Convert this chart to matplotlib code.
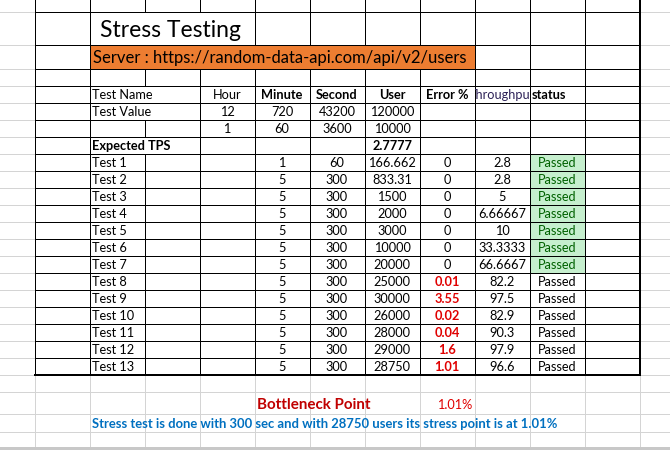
import matplotlib
matplotlib.use("Agg")
import matplotlib.pyplot as plt
from matplotlib.transforms import Bbox, TransformedBbox, IdentityTransform

# ---------------- data ----------------
title = "Stress Testing"
server = "Server : https://random-data-api.com/api/v2/users"
header = ["Test Name", "Hour", "Minute", "Second", "User", "Error %", "Throughput", "status"]
value_hours = [12, 1]
value_minutes = [720, 60]
value_seconds = [43200, 3600]
value_users = [120000, 10000]
expected_tps = 2.7777

test_names = ["Test %d" % i for i in range(1, 14)]
minutes = [1, 5, 5, 5, 5, 5, 5, 5, 5, 5, 5, 5, 5]
seconds = [60, 300, 300, 300, 300, 300, 300, 300, 300, 300, 300, 300, 300]
users = [166.662, 833.31, 1500, 2000, 3000, 10000, 20000, 25000, 30000, 26000, 28000, 29000, 28750]
errors = [0, 0, 0, 0, 0, 0, 0, 0.01, 3.55, 0.02, 0.04, 1.6, 1.01]
throughput = [2.8, 2.8, 5, 6.66667, 10, 33.3333, 66.6667, 82.2, 97.5, 82.9, 90.3, 97.9, 96.6]
status = ["Passed"] * 13
highlighted = [True] * 7 + [False] * 6

bottleneck_label = "Bottleneck Point"
bottleneck_value = "1.01%"
summary = "Stress test is done with 300 sec and with 28750 users its stress point is at 1.01%"

# ---------------- layout (pixels) ----------------
W, H = 670, 450
FONT = "Lato"
PX = 72 / 100  # one pixel in points
fig = plt.figure(figsize=(W / 100, H / 100), dpi=100)
ax = fig.add_axes([0, 0, 1, 1])
ax.set_xlim(0, W)
ax.set_ylim(H, 0)
ax.axis("off")

cols = [34.5 + 55 * i for i in range(12)]
rows = [0, 11.5, 44.5, 68.5, 85.5, 102.5, 119.5, 136.5, 153.5] + [153.5 + 17 * (i + 1) for i in range(13)]
table_bottom = rows[-1]
extra_rows = [391.5, 413.5, 431.5]
GRAY = "#d4d4d4"

def hline(y, x0, x1, c="black", lw=1.0, z=3):
    ax.plot([x0, x1], [y, y], color=c, lw=lw * PX, solid_capstyle="butt", zorder=z,
            antialiased=False)

def vline(x, y0, y1, c="black", lw=1.0, z=3):
    ax.plot([x, x], [y0, y1], color=c, lw=lw * PX, solid_capstyle="butt", zorder=z,
            antialiased=False)

# gray gridlines outside the bordered table
for y in rows[1:]:
    hline(y, 0, cols[0], GRAY, 1.0, 1)
    hline(y, cols[-1], W, GRAY, 1.0, 1)
for y in extra_rows:
    hline(y, 0, W, GRAY, 1.0, 1)
for x in cols:
    vline(x, table_bottom, 447, GRAY, 1.0, 1)
ax.add_patch(plt.Rectangle((0, 447), W, 3, color="#c8c8c8", zorder=1, lw=0))

# fills
ax.add_patch(plt.Rectangle((cols[1], rows[2]), cols[8] - cols[1], rows[3] - rows[2],
                           color="#ed7d31", zorder=2, lw=0))
for i, hl in enumerate(highlighted):
    if hl:
        y0 = rows[8 + i]
        ax.add_patch(plt.Rectangle((cols[9], y0), 55, 17, color="#c6efce", zorder=2, lw=0))

# black borders: horizontal
for y in rows[1:-1]:
    hline(y, cols[0], cols[-1])
hline(table_bottom + 0.5, cols[0] - 0.5, cols[-1] + 1, lw=2.0)

# vertical borders with merged cells skipped
for ri in range(len(rows) - 1):
    y0, y1 = rows[ri], rows[ri + 1]
    for ci, x in enumerate(cols):
        if ri == 1 and ci in (2, 3):
            continue
        if ri == 2 and 2 <= ci <= 7:
            continue
        if ri in (4, 5, 7) and ci == 2:
            continue
        if ci == len(cols) - 1:
            vline(x + 0.5, y0, y1, lw=2.0)
        else:
            vline(x, y0, y1)

def fmt(v):
    return "{:g}".format(v)

def cell_text(s, ci, ri, ha="center", bold=False, color="black", size=9.2, clip=False):
    x0, x1 = cols[ci], cols[ci + 1]
    y1 = rows[ri + 1]
    if ha == "center":
        x = (x0 + x1) / 2
    elif ha == "left":
        x = x0 + 2.5
    else:
        x = x1 - 2.5
    t = ax.text(x, y1 - 3.4, s, ha=ha, va="baseline", fontsize=size, family=FONT,
                fontweight="bold" if bold else "normal", color=color, zorder=4)
    if clip:
        t.set_clip_on(True)
        bb = Bbox.from_extents(*ax.transData.transform((x0 + 0.5, rows[ri + 1])),
                               *ax.transData.transform((x1 - 0.5, rows[ri])))
        t.set_clip_box(TransformedBbox(bb, IdentityTransform()))
    return t

# title and server
ax.text(100, 36.7, title, fontsize=16.5, family=FONT, va="baseline", ha="left", zorder=4)
ax.text(93, 63.5, server, fontsize=11.95, family=FONT, va="baseline", ha="left", zorder=4)

# header row (ri = 4)
cell_text(header[0], 1, 4, ha="left")
cell_text(header[1], 3, 4)
cell_text(header[2], 4, 4, bold=True)
cell_text(header[3], 5, 4, bold=True)
cell_text(header[4], 6, 4, bold=True)
cell_text(header[5], 7, 4, bold=True)
cell_text(header[6], 8, 4, color="#2e2358", clip=True)
cell_text(header[7], 9, 4, ha="left", bold=True)

# value rows
cell_text("Test Value", 1, 5, ha="left")
for k in range(2):
    ri = 5 + k
    cell_text(fmt(value_hours[k]), 3, ri)
    cell_text(fmt(value_minutes[k]), 4, ri)
    cell_text(fmt(value_seconds[k]), 5, ri)
    cell_text(fmt(value_users[k]), 6, ri)
cell_text("Expected TPS", 1, 7, ha="left", bold=True)
cell_text(fmt(expected_tps), 6, 7, bold=True)

# tests
for i in range(13):
    ri = 8 + i
    cell_text(test_names[i], 1, ri, ha="left")
    cell_text(fmt(minutes[i]), 4, ri)
    cell_text(fmt(seconds[i]), 5, ri)
    cell_text(fmt(users[i]), 6, ri)
    if errors[i] == 0:
        cell_text(fmt(errors[i]), 7, ri)
    else:
        cell_text(fmt(errors[i]), 7, ri, bold=True, color="#e00000")
    cell_text(fmt(throughput[i]), 8, ri)
    if highlighted[i]:
        cell_text(status[i], 9, ri, color="#006100")
    else:
        cell_text(status[i], 9, ri)

# bottom notes
ax.text(257, 409, bottleneck_label, fontsize=10.9, family=FONT, fontweight="bold",
        color="#c00000", va="baseline", ha="left", zorder=4)
ax.text(472, 409, bottleneck_value, fontsize=9.2, family=FONT, color="#e00000",
        va="baseline", ha="right", zorder=4)
ax.text(92.5, 427.5, summary, fontsize=9.4, family=FONT, fontweight="bold",
        color="#0070c0", va="baseline", ha="left", zorder=4)

fig.savefig("out.png", dpi=100, facecolor="white")
